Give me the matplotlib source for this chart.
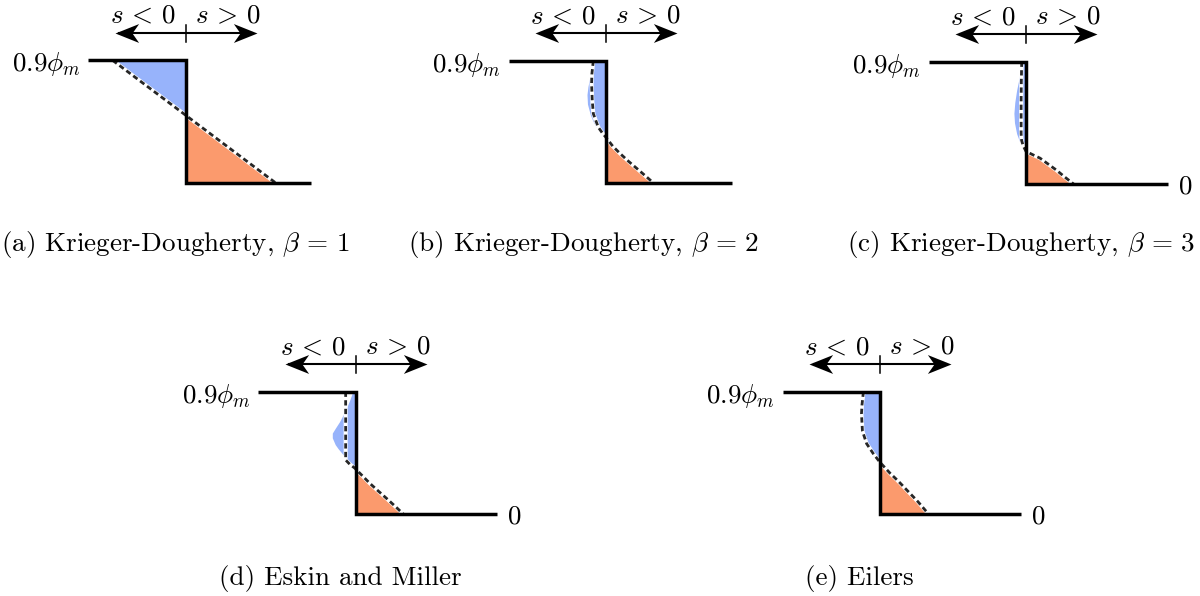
import matplotlib
matplotlib.use("Agg")
import numpy as np
import matplotlib.pyplot as plt
from matplotlib.path import Path

plt.rcParams['font.family'] = 'serif'
plt.rcParams['font.serif'] = ['cmr10']
plt.rcParams['mathtext.fontset'] = 'cm'
plt.rcParams['axes.unicode_minus'] = False

# profiles: s is distance from the shock, phi is volume fraction
captions = [r"(a) Krieger-Dougherty, $\beta\,=\,1$",
            r"(b) Krieger-Dougherty, $\beta\,=\,2$",
            r"(c) Krieger-Dougherty, $\beta\,=\,3$",
            r"(d) Eskin and Miller",
            r"(e) Eilers"]

phi_top = 0.9
right_end = [1.28, 1.29, 1.46, 1.45, 1.45]
show_zero = [False, False, True, True, True]

dash_a_s = [-0.75, 0.0, 0.92]
dash_a_phi = [0.9, 0.496, 0.0]
blue_a_s = [-0.75, 0.0]
blue_a_phi = [0.9, 0.496]

dash_b_s = [-0.13, -0.145, -0.148, -0.141, -0.13, -0.105, -0.079, -0.04, 0.0, 0.07, 0.144, 0.23, 0.316, 0.40, 0.487]
dash_b_phi = [0.9, 0.80, 0.73, 0.607, 0.51, 0.46, 0.41, 0.37, 0.335, 0.27, 0.217, 0.16, 0.107, 0.055, 0.0]
blue_b_s = [-0.13, -0.15, -0.165, -0.185, -0.195, -0.19, -0.16, -0.13, -0.10, -0.06, -0.03, 0.0]
blue_b_phi = [0.9, 0.84, 0.78, 0.71, 0.65, 0.58, 0.50, 0.45, 0.41, 0.375, 0.35, 0.335]

dash_c_s = [-0.044, -0.048, -0.05, -0.05, -0.045, -0.028, 0.0, 0.07, 0.144, 0.23, 0.316, 0.40, 0.488]
dash_c_phi = [0.9, 0.75, 0.61, 0.37, 0.32, 0.28, 0.24, 0.215, 0.19, 0.145, 0.10, 0.05, 0.0]
blue_c_s = [-0.044, -0.07, -0.096, -0.115, -0.124, -0.118, -0.096, -0.07, -0.044, 0.0]
blue_c_phi = [0.9, 0.78, 0.69, 0.60, 0.52, 0.45, 0.37, 0.32, 0.28, 0.24]

dash_d_s = [-0.103, -0.103, -0.103, -0.06, -0.007, 0.0, 0.07, 0.144, 0.23, 0.316, 0.40, 0.488]
dash_d_phi = [0.9, 0.65, 0.397, 0.365, 0.336, 0.33, 0.28, 0.226, 0.17, 0.115, 0.06, 0.0]
blue_d_s = [-0.03, -0.06, -0.10, -0.165, -0.21, -0.24, -0.24, -0.21, -0.18, -0.11, -0.04, 0.0]
blue_d_phi = [0.9, 0.84, 0.77, 0.68, 0.63, 0.595, 0.56, 0.51, 0.48, 0.42, 0.37, 0.33]

dash_e_s = [-0.17, -0.185, -0.19, -0.18, -0.137, -0.069, 0.0, 0.103, 0.19, 0.275, 0.39, 0.497]
dash_e_phi = [0.9, 0.80, 0.736, 0.61, 0.517, 0.444, 0.38, 0.30, 0.24, 0.176, 0.09, 0.0]
blue_e_s = [-0.15, -0.185, -0.206, -0.205, -0.2, -0.154, -0.075, -0.01, 0.0]
blue_e_phi = [0.9, 0.80, 0.72, 0.66, 0.61, 0.517, 0.44, 0.39, 0.38]

dash_s = [dash_a_s, dash_b_s, dash_c_s, dash_d_s, dash_e_s]
dash_phi = [dash_a_phi, dash_b_phi, dash_c_phi, dash_d_phi, dash_e_phi]
blue_s = [blue_a_s, blue_b_s, blue_c_s, blue_d_s, blue_e_s]
blue_phi = [blue_a_phi, blue_b_phi, blue_c_phi, blue_d_phi, blue_e_phi]

blue = '#97b3fb'
orange = '#fb9a6d'
W, H = 1200, 596
sx, sy = 97.5, 136.0   # pixels per unit of s and phi
fs = 19.5

# stealth-style arrow heads, tip at the marker origin
head_r = Path([(0, 0), (-1, 0.4), (-0.72, 0), (-1, -0.4), (0, 0)],
              [Path.MOVETO, Path.LINETO, Path.LINETO, Path.LINETO, Path.CLOSEPOLY])
head_l = Path([(0, 0), (1, 0.4), (0.72, 0), (1, -0.4), (0, 0)],
              [Path.MOVETO, Path.LINETO, Path.LINETO, Path.LINETO, Path.CLOSEPOLY])

# shock location (px) of each panel, and caption centre (px)
shock_px = [(185.7, 182.7), (606, 183), (1026, 184), (355.7, 514), (880, 514)]
caption_px = [(175, 244), (584, 244), (1021, 244), (340, 579), (859, 579)]

fig = plt.figure(figsize=(12, 5.96), dpi=100)
s_lo, s_hi, p_lo, p_hi = -1.5, 2.0, -0.25, 1.35

for i in range(5):
    x0, yb = shock_px[i]
    left = (x0 + s_lo * sx) / W
    bottom = (H - (yb - p_lo * sy)) / H
    ax = fig.add_axes([left, bottom, (s_hi - s_lo) * sx / W, (p_hi - p_lo) * sy / H])
    ax.set_xlim(s_lo, s_hi)
    ax.set_ylim(p_lo, p_hi)
    ax.axis('off')

    ds = np.array(dash_s[i])
    dp = np.array(dash_phi[i])
    ax.fill_betweenx(blue_phi[i], blue_s[i], 0, color=blue, lw=0)
    right = ds >= 0
    ax.fill_between(ds[right], 0, dp[right], color=orange, lw=0)

    ax.plot(ds, dp, color='white', lw=2.9, solid_capstyle='butt', zorder=3)
    ax.plot(ds, dp, color='#262626', lw=2.0, linestyle=(0, (1.9, 1.2)), zorder=4)

    ax.plot([-1, 0, 0, right_end[i]], [phi_top, phi_top, 0, 0], color='black',
            lw=2.5, solid_joinstyle='miter', solid_capstyle='butt', zorder=5)

    # direction arrow above the shock
    ax.plot([-0.68, 0.68], [1.10, 1.10], color='black', lw=1.5)
    ax.plot([-0.725], [1.10], marker=head_l, markersize=34, color='black', mew=0)
    ax.plot([0.73], [1.10], marker=head_r, markersize=34, color='black', mew=0)
    ax.plot([0, 0], [1.035, 1.16], color='black', lw=1.1)
    ax.text(-0.44, 1.225, r'$s\,<\,0$', ha='center', va='center', fontsize=fs)
    ax.text(0.43, 1.225, r'$s\,>\,0$', ha='center', va='center', fontsize=fs)

    ax.text(-1.08, 0.87, r'$0.9\phi_m$', ha='right', va='center', fontsize=fs)
    if show_zero[i]:
        ax.text(right_end[i] + 0.1, -0.02, r'$0$', ha='left', va='center', fontsize=fs)

    cx, cy = caption_px[i]
    fig.text(cx / W, 1 - cy / H, captions[i], ha='center', va='center', fontsize=fs)

fig.savefig('out.png', dpi=100, facecolor='white')
